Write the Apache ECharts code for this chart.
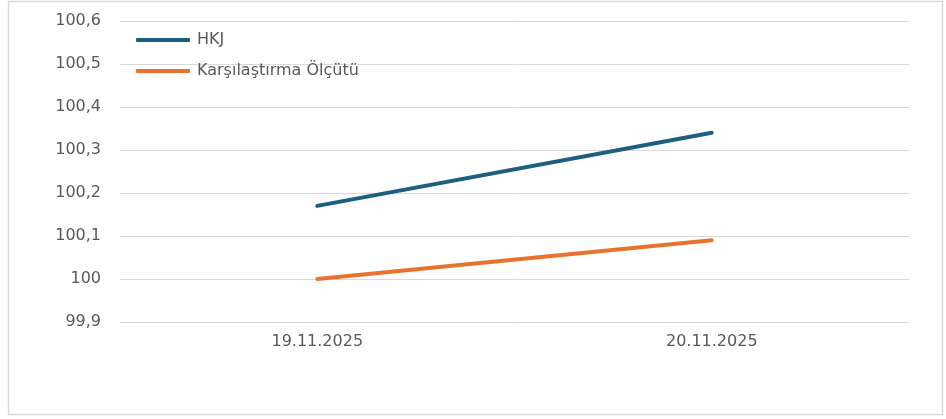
<!DOCTYPE html>
<html>
<head>
    <meta charset="utf-8">
    <title>HKJ</title>
    <script src="https://cdn.jsdelivr.net/npm/echarts@6/dist/echarts.min.js"></script>
    <style type="text/css">
        html, body { margin: 0; padding: 0; background: #fff; }
        #chart { width: 946px; height: 419px; }
    </style>
</head>
<body>
<div id="chart"></div>
<script type="text/javascript">
    // veriler
    let dates = ['19.11.2025', '20.11.2025'];
    let hkj = [100.17, 100.34];
    let benchmark = [100.00, 100.09];
    let seriesNames = ['HKJ', 'Karşılaştırma Ölçütü'];

    let chart = echarts.init(document.getElementById('chart'), null, {renderer: 'canvas'});

    let fmt = function (v) {
        return (Math.round(v * 10) / 10).toString().replace('.', ',');
    };

    chart.setOption({
        animation: false,
        textStyle: {fontFamily: 'DejaVu Sans, sans-serif'},
        graphic: [{
            type: 'rect',
            shape: {x: 8.5, y: 1.5, width: 934, height: 413},
            style: {fill: 'none', stroke: '#d9d9d9', lineWidth: 1.5},
            silent: true
        }],
        legend: {
            orient: 'vertical',
            left: 131,
            top: 27,
            itemGap: 15,
            itemWidth: 54,
            itemHeight: 4,
            icon: 'roundRect',
            textStyle: {color: '#595959', fontSize: 16, padding: [0, 0, 0, 2]},
            data: seriesNames
        },
        grid: {left: 120, right: 37, top: 21, bottom: 97},
        xAxis: {
            type: 'category',
            data: dates,
            boundaryGap: true,
            axisLine: {show: false},
            axisTick: {show: false},
            axisLabel: {color: '#595959', fontSize: 16, margin: 12}
        },
        yAxis: {
            type: 'value',
            min: 99.9,
            max: 100.6,
            interval: 0.1,
            axisLine: {show: false},
            axisTick: {show: false},
            splitLine: {lineStyle: {color: '#d9d9d9', width: 1}},
            axisLabel: {color: '#595959', fontSize: 16, margin: 19, formatter: fmt}
        },
        series: [{
            name: seriesNames[0],
            type: 'line',
            data: hkj,
            showSymbol: false,
            color: '#1d5f83',
            lineStyle: {width: 4, cap: 'round'}
        }, {
            name: seriesNames[1],
            type: 'line',
            data: benchmark,
            showSymbol: false,
            color: '#e9722f',
            lineStyle: {width: 4, cap: 'round'}
        }]
    });
</script>
</body>
</html>
